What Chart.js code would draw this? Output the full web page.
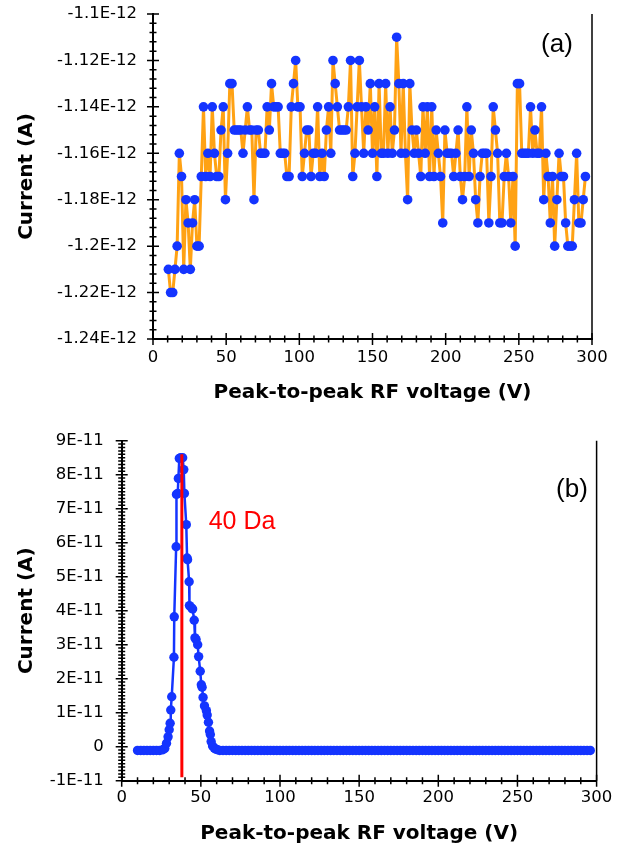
<!DOCTYPE html>
<html>
<head>
<meta charset="utf-8">
<script src="https://cdn.jsdelivr.net/npm/chart.js@4.4.0/dist/chart.umd.min.js"></script>
<style>
  html, body { margin: 0; padding: 0; background: #fff; }
  #page { position: relative; width: 629px; height: 855px; overflow: hidden; }
  #chartA { position: absolute; left: 0; top: 0; }
  #chartB { position: absolute; left: 0; top: 420px; }
</style>
</head>
<body>
<div id="page">
  <canvas id="chartA" width="629" height="420"></canvas>
  <canvas id="chartB" width="629" height="435"></canvas>
</div>
<script>
// (a) background scan - voltage (V) and current (pA)
const voltageA = [
  10.5, 12, 13.5, 15, 16.5, 18, 19.5, 21, 22.5, 24,
  25.5, 27, 28.5, 30, 31.5, 33, 34.5, 36, 37.5, 39,
  40.5, 42, 43.5, 45, 46.5, 48, 49.5, 51, 52.5, 54,
  55.5, 57, 58.5, 60, 61.5, 63, 64.5, 66, 67.5, 69,
  70.5, 72, 73.5, 75, 76.5, 78, 79.5, 81, 82.5, 84,
  85.5, 87, 88.5, 90, 91.5, 93, 94.5, 96, 97.5, 99,
  100.5, 102, 103.5, 105, 106.5, 108, 109.5, 111, 112.5, 114,
  115.5, 117, 118.5, 120, 121.5, 123, 124.5, 126, 127.5, 129,
  130.5, 132, 133.5, 135, 136.5, 138, 139.5, 141, 142.5, 144,
  145.5, 147, 148.5, 150, 151.5, 153, 154.5, 156, 157.5, 159,
  160.5, 162, 163.5, 165, 166.5, 168, 169.5, 171, 172.5, 174,
  175.5, 177, 178.5, 180, 181.5, 183, 184.5, 186, 187.5, 189,
  190.5, 192, 193.5, 195, 196.5, 198, 199.5, 201, 202.5, 204,
  205.5, 207, 208.5, 210, 211.5, 213, 214.5, 216, 217.5, 219,
  220.5, 222, 223.5, 225, 226.5, 228, 229.5, 231, 232.5, 234,
  235.5, 237, 238.5, 240, 241.5, 243, 244.5, 246, 247.5, 249,
  250.5, 252, 253.5, 255, 256.5, 258, 259.5, 261, 262.5, 264,
  265.5, 267, 268.5, 270, 271.5, 273, 274.5, 276, 277.5, 279,
  280.5, 282, 283.5, 285, 286.5, 288, 289.5, 291, 292.5, 294,
  295.5
]
const currentA = [
  -1.21, -1.22, -1.22, -1.21, -1.20, -1.16, -1.17, -1.21, -1.18, -1.19,
  -1.21, -1.19, -1.18, -1.20, -1.20, -1.17, -1.14, -1.17, -1.16, -1.17,
  -1.14, -1.16, -1.17, -1.17, -1.15, -1.14, -1.18, -1.16, -1.13, -1.13,
  -1.15, -1.15, -1.15, -1.15, -1.16, -1.15, -1.14, -1.15, -1.15, -1.18,
  -1.15, -1.15, -1.16, -1.16, -1.16, -1.14, -1.15, -1.13, -1.14, -1.14,
  -1.14, -1.16, -1.16, -1.16, -1.17, -1.17, -1.14, -1.13, -1.12, -1.14,
  -1.14, -1.17, -1.16, -1.15, -1.15, -1.17, -1.16, -1.16, -1.14, -1.17,
  -1.16, -1.17, -1.15, -1.14, -1.16, -1.12, -1.13, -1.14, -1.15, -1.15,
  -1.15, -1.15, -1.14, -1.12, -1.17, -1.16, -1.14, -1.12, -1.14, -1.16,
  -1.14, -1.15, -1.13, -1.16, -1.14, -1.17, -1.13, -1.16, -1.16, -1.13,
  -1.16, -1.14, -1.16, -1.15, -1.11, -1.13, -1.16, -1.13, -1.16, -1.18,
  -1.13, -1.15, -1.16, -1.15, -1.16, -1.17, -1.14, -1.16, -1.14, -1.17,
  -1.14, -1.17, -1.15, -1.16, -1.17, -1.19, -1.15, -1.16, -1.16, -1.16,
  -1.17, -1.16, -1.15, -1.17, -1.18, -1.17, -1.14, -1.17, -1.15, -1.16,
  -1.18, -1.19, -1.17, -1.16, -1.16, -1.16, -1.19, -1.17, -1.14, -1.15,
  -1.16, -1.19, -1.19, -1.17, -1.16, -1.17, -1.19, -1.17, -1.20, -1.13,
  -1.13, -1.16, -1.16, -1.16, -1.16, -1.14, -1.16, -1.15, -1.16, -1.16,
  -1.14, -1.18, -1.16, -1.17, -1.19, -1.17, -1.20, -1.18, -1.16, -1.17,
  -1.17, -1.19, -1.20, -1.20, -1.20, -1.18, -1.16, -1.19, -1.19, -1.18,
  -1.17
]

// (b) argon scan - voltage (V) and current (pA)
const voltageB = [
  10, 12, 14, 16, 18, 20, 22, 24, 26,
  27.2, 28.3, 29.3, 30, 30.6, 31, 31.6, 33, 33.2, 34.4,
  34.6, 35.4, 35.8, 36.4, 37.2, 38.5, 39.2, 39.6, 40.8, 41.3,
  41.6, 42.6, 42.8, 44.2, 44.8, 45.8, 46.3, 47, 48, 48.6,
  49.6, 50.3, 50.8, 51.4, 52.3, 53.5, 54, 54.8, 55.5, 56,
  56.5, 57.4, 58.5, 59.5, 60.5,
  62, 64, 66, 68, 70, 72, 74, 76, 78, 80,
  82, 84, 86, 88, 90, 92, 94, 96, 98, 100,
  102, 104, 106, 108, 110, 112, 114, 116, 118, 120,
  122, 124, 126, 128, 130, 132, 134, 136, 138, 140,
  142, 144, 146, 148, 150, 152, 154, 156, 158, 160,
  162, 164, 166, 168, 170, 172, 174, 176, 178, 180,
  182, 184, 186, 188, 190, 192, 194, 196, 198, 200,
  202, 204, 206, 208, 210, 212, 214, 216, 218, 220,
  222, 224, 226, 228, 230, 232, 234, 236, 238, 240,
  242, 244, 246, 248, 250, 252, 254, 256, 258, 260,
  262, 264, 266, 268, 270, 272, 274, 276, 278, 280,
  282, 284, 286, 288, 290, 292, 294, 296
]
const currentB = [
  -1.1, -1.1, -1.1, -1.1, -1.1, -1.1, -1.1, -1.1, -0.9,
  -0.5, 1.0, 2.9, 5.0, 6.9, 10.8, 14.7, 26.3, 38.2, 58.8,
  74.2, 74.5, 78.9, 84.8, 85.0, 85.0, 81.5, 74.5, 65.3, 55.5,
  55.0, 48.5, 41.5, 40.8, 40.5, 37.2, 32.0, 31.5, 30.0, 26.5,
  22.2, 18.2, 17.5, 14.5, 12.0, 10.6, 9.3, 7.2, 4.6, 3.6,
  1.5, 0.2, -0.4, -0.7, -0.9,
  -1.1, -1.1, -1.1, -1.1, -1.1, -1.1, -1.1, -1.1, -1.1, -1.1,
  -1.1, -1.1, -1.1, -1.1, -1.1, -1.1, -1.1, -1.1, -1.1, -1.1,
  -1.1, -1.1, -1.1, -1.1, -1.1, -1.1, -1.1, -1.1, -1.1, -1.1,
  -1.1, -1.1, -1.1, -1.1, -1.1, -1.1, -1.1, -1.1, -1.1, -1.1,
  -1.1, -1.1, -1.1, -1.1, -1.1, -1.1, -1.1, -1.1, -1.1, -1.1,
  -1.1, -1.1, -1.1, -1.1, -1.1, -1.1, -1.1, -1.1, -1.1, -1.1,
  -1.1, -1.1, -1.1, -1.1, -1.1, -1.1, -1.1, -1.1, -1.1, -1.1,
  -1.1, -1.1, -1.1, -1.1, -1.1, -1.1, -1.1, -1.1, -1.1, -1.1,
  -1.1, -1.1, -1.1, -1.1, -1.1, -1.1, -1.1, -1.1, -1.1, -1.1,
  -1.1, -1.1, -1.1, -1.1, -1.1, -1.1, -1.1, -1.1, -1.1, -1.1,
  -1.1, -1.1, -1.1, -1.1, -1.1, -1.1, -1.1, -1.1, -1.1, -1.1,
  -1.1, -1.1, -1.1, -1.1, -1.1, -1.1, -1.1, -1.1
]

// 40 Da marker line (V, pA)
const markerV = [38, 38]
const markerI = [-9, 86]

const blue = "#1434FF"
const orange = "#FFA214"
const tickFont = { family: "DejaVu Sans", size: 16.5 }
const titleFont = { family: "DejaVu Sans", size: 20, weight: "bold" }

function toPoints(xs, ys) {
  return xs.map((x, i) => ({ x: x, y: ys[i] }))
}

// ticks that cross the axes, plus right frame line and panel labels
const axisDecor = {
  id: "axisDecor",
  afterDraw(chart, args, opts) {
    const { ctx, chartArea, scales } = chart
    ctx.save()
    ctx.strokeStyle = "#000"
    ctx.lineWidth = 1.5
    ctx.beginPath()
    const xs = scales.x
    let n = Math.round((xs.max - xs.min) / opts.xMinor)
    for (let i = 0; i <= n; i++) {
      const px = xs.getPixelForValue(xs.min + i * opts.xMinor)
      const len = i % opts.xEvery === 0 ? 6 : 3.5
      ctx.moveTo(px, chartArea.bottom - len)
      ctx.lineTo(px, chartArea.bottom + len)
    }
    const ys = scales.y
    n = Math.round((ys.max - ys.min) / opts.yMinor)
    for (let i = 0; i <= n; i++) {
      const py = ys.getPixelForValue(ys.min + i * opts.yMinor)
      const len = i % opts.yEvery === 0 ? 6 : 3.5
      ctx.moveTo(chartArea.left - len, py)
      ctx.lineTo(chartArea.left + len, py)
    }
    ctx.stroke()
    ctx.beginPath()
    ctx.moveTo(chartArea.right, chartArea.top)
    ctx.lineTo(chartArea.right, chartArea.bottom)
    ctx.stroke()
    ctx.textAlign = "center"
    ctx.textBaseline = "middle"
    ;(opts.labels || []).forEach((l) => {
      ctx.fillStyle = l.color
      ctx.font = l.size + "px 'Liberation Sans', Arial, sans-serif"
      ctx.fillText(l.text, l.x, l.y)
    })
    ctx.restore()
  },
}

function axisOptions(cfg) {
  return {
    x: {
      type: "linear",
      min: 0,
      max: 300,
      ticks: { stepSize: 50, font: tickFont, color: "#000", padding: cfg.xPad, maxRotation: 0, autoSkip: false },
      grid: { display: false, drawTicks: false },
      border: { display: true, color: "#000", width: 2 },
      title: { display: true, text: "Peak-to-peak RF voltage (V)", font: titleFont, color: "#000", padding: { top: 0, bottom: cfg.xTitlePad } },
      afterFit: (s) => { s.height = cfg.xHeight },
    },
    y: {
      type: "linear",
      min: cfg.yMin,
      max: cfg.yMax,
      ticks: { stepSize: cfg.yStep, font: tickFont, color: "#000", padding: cfg.yPad, autoSkip: false, callback: cfg.yFormat },
      grid: { display: false, drawTicks: false },
      border: { display: true, color: "#000", width: 2 },
      title: { display: true, text: "Current (A)", font: titleFont, color: "#000", padding: { top: 15, bottom: 0 } },
      afterFit: (s) => {
        s.width = cfg.yWidth
        // keep the plot edges where the layout padding puts them
        s.paddingTop = 0
        s.paddingBottom = 0
      },
    },
  }
}

new Chart(document.getElementById("chartA"), {
  type: "scatter",
  data: {
    datasets: [
      {
        data: toPoints(voltageA, currentA),
        showLine: true,
        borderColor: orange,
        borderWidth: 3,
        pointRadius: 4.8,
        pointBorderWidth: 0,
        pointBackgroundColor: blue,
        tension: 0,
      },
    ],
  },
  options: {
    responsive: false,
    animation: false,
    layout: { padding: { left: 0, right: 37, top: 14, bottom: 0 } },
    plugins: {
      legend: { display: false },
      tooltip: { enabled: false },
      axisDecor: {
        xMinor: 10, xEvery: 5, yMinor: 0.004, yEvery: 5,
        labels: [{ text: "(a)", x: 557, y: 45, size: 26, color: "#000" }],
      },
    },
    scales: axisOptions({
      yMin: -1.24, yMax: -1.1, yStep: 0.02,
      yFormat: (v) => Number(v.toFixed(2)) + "E-12",
      yWidth: 153, yPad: 16, xHeight: 81, xPad: 9, xTitlePad: 15,
    }),
  },
  plugins: [axisDecor],
})

new Chart(document.getElementById("chartB"), {
  type: "scatter",
  data: {
    datasets: [
      {
        data: toPoints(markerV, markerI),
        showLine: true,
        borderColor: "#FF0000",
        borderWidth: 3,
        pointRadius: 0,
      },
      {
        data: toPoints(voltageB, currentB),
        showLine: true,
        borderColor: blue,
        borderWidth: 2.5,
        pointRadius: 4.7,
        pointBorderWidth: 0,
        pointBackgroundColor: blue,
        tension: 0,
      },
    ],
  },
  options: {
    responsive: false,
    animation: false,
    layout: { padding: { left: 0, right: 32.4, top: 20.7, bottom: 0 } },
    plugins: {
      legend: { display: false },
      tooltip: { enabled: false },
      axisDecor: {
        xMinor: 10, xEvery: 5, yMinor: 1, yEvery: 10,
        labels: [
          { text: "(b)", x: 572, y: 70, size: 26, color: "#000" },
          { text: "40 Da", x: 242, y: 102, size: 25, color: "#FF0000" },
        ],
      },
    },
    scales: axisOptions({
      yMin: -10, yMax: 90, yStep: 10,
      yFormat: (v) => (v === 0 ? "0" : v / 10 + "E-11"),
      yWidth: 121.7, yPad: 18, xHeight: 74.3, xPad: 7, xTitlePad: 9,
    }),
  },
  plugins: [axisDecor],
})
</script>
</body>
</html>
